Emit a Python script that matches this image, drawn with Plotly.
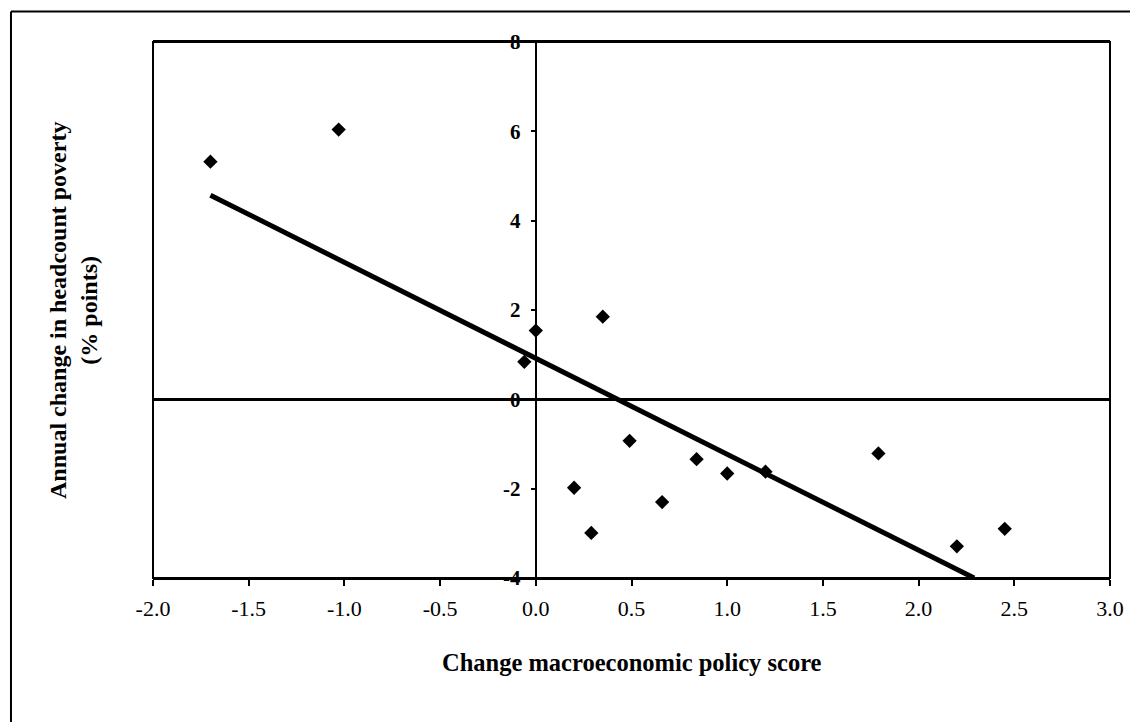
import plotly.graph_objects as go

# Data
policy_change = [-1.70, -1.03, -0.06, 0.00, 0.35, 0.49, 0.20, 0.29, 0.66, 0.84, 1.00, 1.20, 1.79, 2.20, 2.45]
poverty_change = [5.32, 6.04, 0.84, 1.54, 1.85, -0.93, -1.98, -2.99, -2.30, -1.34, -1.66, -1.62, -1.21, -3.29, -2.90]
fit_x = [-1.70, 2.29]
fit_y = [4.57, -4.00]

x_ticks = [-2.0, -1.5, -1.0, -0.5, 0.0, 0.5, 1.0, 1.5, 2.0, 2.5, 3.0]
x_tick_text = ["-2.0", "-1.5", "-1.0", "-0.5", "0.0", "0.5", "1.0", "1.5", "2.0", "2.5", "3.0"]
y_ticks = [-4, -2, 0, 2, 4, 6, 8]
y_tick_text = ["-4", "-2", "0", "2", "4", "6", "8"]

FONT = "Liberation Serif, Times New Roman, serif"

fig = go.Figure()
fig.add_trace(go.Scatter(x=fit_x, y=fit_y, mode="lines",
                         line=dict(color="black", width=5), showlegend=False))
fig.add_trace(go.Scatter(x=policy_change, y=poverty_change, mode="markers",
                         marker=dict(symbol="diamond", size=11, color="black"),
                         showlegend=False))

fig.update_layout(
    width=1130, height=722,
    margin=dict(l=153, r=20, t=42, b=144, autoexpand=False),
    paper_bgcolor="white", plot_bgcolor="white",
    font=dict(family=FONT, color="black"),
    xaxis=dict(range=[-2, 3], tickvals=x_ticks, ticktext=x_tick_text, automargin=False,
               showgrid=False, zeroline=True, zerolinecolor="black", zerolinewidth=2,
               showline=True, linecolor="black", linewidth=2, mirror=True,
               ticks="outside", ticklen=6, tickwidth=2, tickcolor="black",
               tickfont=dict(size=22, family=FONT), ticklabelstandoff=4),
    yaxis=dict(range=[-4, 8], tickvals=y_ticks, ticktext=y_tick_text, anchor="free", position=0.4,
               automargin=False,
               showgrid=False, zeroline=True, zerolinecolor="black", zerolinewidth=2.5,
               showline=True, linecolor="black", linewidth=2,
               ticks="outside", ticklen=4, tickwidth=2, tickcolor="black",
               tickfont=dict(size=21, family=FONT, weight="bold"), ticklabelstandoff=6),
    shapes=[
        dict(type="rect", xref="paper", yref="paper", x0=0, x1=1, y0=0, y1=1,
             line=dict(color="black", width=2)),
        dict(type="line", xref="paper", yref="paper", x0=-0.1484, x1=1.05, y0=1.057, y1=1.057,
             line=dict(color="black", width=2)),
        dict(type="line", xref="paper", yref="paper", x0=-0.1484, x1=-0.1484, y0=1.057, y1=-0.3,
             line=dict(color="black", width=2)),
    ],
    annotations=[
        dict(text="<b>Change macroeconomic policy score</b>", xref="paper", yref="paper",
             x=0.5, y=-0.158, xanchor="center", yanchor="middle", showarrow=False,
             font=dict(size=24.5, family=FONT)),
        dict(text="<b>Annual change in headcount poverty<br>(% points)</b>", xref="paper", yref="paper",
             x=-0.0836, y=0.5, xanchor="center", yanchor="middle", textangle=-90, showarrow=False,
             font=dict(size=24, family=FONT)),
    ],
)

fig.write_html("out.html", config={"displayModeBar": False},
               post_script="document.body.style.margin='0';")
